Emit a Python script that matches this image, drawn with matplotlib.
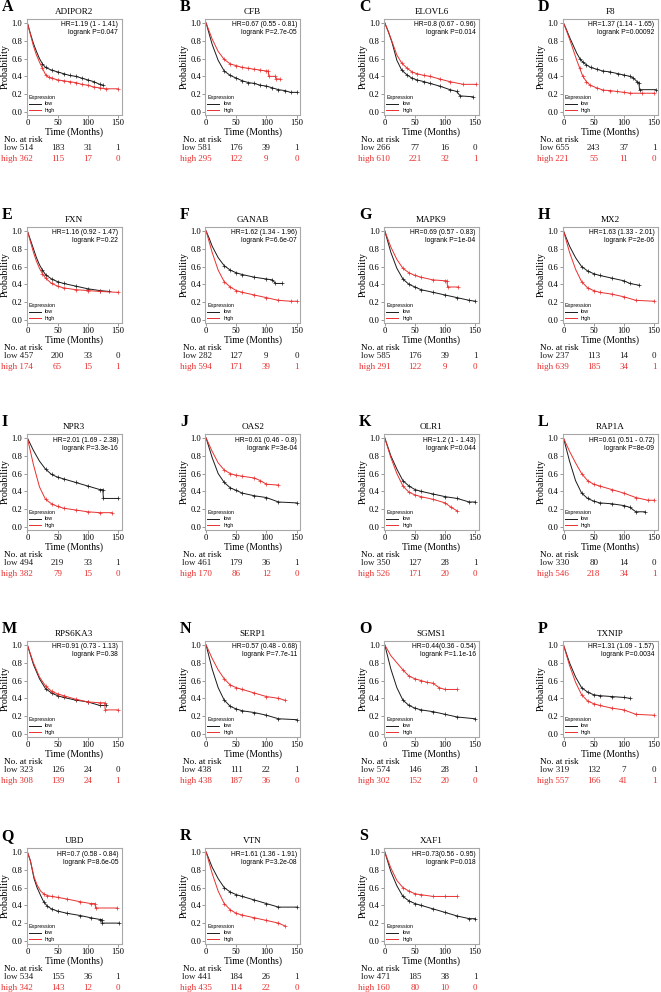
import matplotlib
matplotlib.use('Agg')
import matplotlib.pyplot as plt
from matplotlib import transforms
from matplotlib.lines import Line2D

genes = ["ADIPOR2", "CFB", "ELOVL6", "F8", "FXN", "GANAB", "MAPK9", "MX2",
         "NPR3", "OAS2", "OLR1", "RAP1A", "RPS6KA3", "SERP1", "SGMS1", "TXNIP",
         "UBD", "VTN", "XAF1"]
letters = list("ABCDEFGHIJKLMNOPQRS")
hr_texts = ["HR=1.19 (1 - 1.41)", "HR=0.67 (0.55 - 0.81)", "HR=0.8 (0.67 - 0.96)",
            "HR=1.37 (1.14 - 1.65)", "HR=1.16 (0.92 - 1.47)", "HR=1.62 (1.34 - 1.96)",
            "HR=0.69 (0.57 - 0.83)", "HR=1.63 (1.33 - 2.01)", "HR=2.01 (1.69 - 2.38)",
            "HR=0.61 (0.46 - 0.8)", "HR=1.2 (1 - 1.43)", "HR=0.61 (0.51 - 0.72)",
            "HR=0.91 (0.73 - 1.13)", "HR=0.57 (0.48 - 0.68)", "HR=0.44(0.36 - 0.54)",
            "HR=1.31 (1.09 - 1.57)", "HR=0.7 (0.58 - 0.84)", "HR=1.61 (1.36 - 1.91)",
            "HR=0.73(0.56 - 0.95)"]
p_texts = ["logrank P=0.047", "logrank P=2.7e-05", "logrank P=0.014", "logrank P=0.00092",
           "logrank P=0.22", "logrank P=6.6e-07", "logrank P=1e-04", "logrank P=2e-06",
           "logrank P=3.3e-16", "logrank P=3e-04", "logrank P=0.044", "logrank P=8e-09",
           "logrank P=0.38", "logrank P=7.7e-11", "logrank P=1.1e-16", "logrank P=0.0034",
           "logrank P=8.6e-05", "logrank P=3.2e-08", "logrank P=0.018"]
risk_times = [0, 50, 100, 150]
risk_low = [[514, 183, 31, 1], [581, 176, 39, 1], [266, 77, 16, 0], [655, 243, 37, 1],
            [457, 200, 33, 0], [282, 127, 9, 0], [585, 176, 39, 1], [237, 113, 14, 0],
            [494, 219, 33, 1], [461, 179, 36, 1], [350, 127, 28, 1], [330, 80, 14, 0],
            [323, 126, 24, 0], [438, 111, 22, 1], [574, 146, 28, 1], [319, 132, 7, 0],
            [534, 155, 36, 1], [441, 184, 26, 1], [471, 185, 38, 1]]
risk_high = [[362, 115, 17, 0], [295, 122, 9, 0], [610, 221, 32, 1], [221, 55, 11, 0],
             [174, 65, 15, 1], [594, 171, 39, 1], [291, 122, 9, 0], [639, 185, 34, 1],
             [382, 79, 15, 0], [170, 86, 12, 0], [526, 171, 20, 0], [546, 218, 34, 1],
             [308, 139, 24, 1], [438, 187, 36, 0], [302, 152, 20, 0], [557, 166, 41, 1],
             [342, 143, 12, 0], [435, 114, 22, 0], [160, 80, 10, 0]]

low_t = [
    [0, 5, 10, 15, 20, 25, 30, 40, 50, 60, 70, 80, 90, 100, 110, 120, 125],
    [0, 10, 20, 30, 40, 50, 60, 70, 80, 90, 100, 110, 120, 130, 140, 150],
    [0, 6, 12, 20, 28, 37, 45, 53, 65, 75, 91, 108, 119, 125, 146],
    [0, 4, 10, 16, 22, 27, 32, 38, 45, 55, 65, 77, 90, 100, 110, 116, 122, 125, 126, 153],
    [0, 5, 10, 15, 20, 25, 30, 40, 50, 60, 80, 100, 120, 135],
    [0, 5, 10, 20, 30, 40, 50, 60, 80, 100, 110, 115, 125],
    [0, 10, 20, 30, 40, 50, 60, 80, 100, 120, 140, 150],
    [0, 10, 20, 30, 40, 50, 60, 80, 100, 110, 125],
    [0, 10, 20, 30, 40, 50, 60, 80, 100, 120, 125, 126, 150],
    [0, 10, 20, 30, 40, 50, 60, 80, 100, 120, 150],
    [0, 10, 20, 30, 40, 50, 60, 80, 100, 120, 140, 150],
    [0, 10, 20, 30, 40, 50, 60, 80, 100, 110, 120, 135],
    [0, 10, 20, 30, 40, 50, 60, 80, 100, 120, 130],
    [0, 10, 20, 30, 40, 50, 60, 80, 100, 120, 150],
    [0, 10, 20, 30, 40, 50, 60, 80, 100, 120, 150],
    [0, 10, 20, 30, 40, 50, 60, 80, 100, 110],
    [0, 5, 11, 16, 22, 27, 33, 40, 50, 66, 88, 105, 121, 123, 124, 152],
    [0, 10, 20, 30, 40, 50, 60, 80, 100, 120, 150],
    [0, 10, 20, 30, 40, 50, 60, 80, 100, 120, 140, 150],
]
low_s = [
    [1, 0.88, 0.77, 0.68, 0.6, 0.54, 0.5, 0.47, 0.45, 0.43, 0.41, 0.4, 0.38, 0.36, 0.34, 0.31, 0.3],
    [1, 0.76, 0.58, 0.46, 0.41, 0.38, 0.35, 0.33, 0.32, 0.3, 0.29, 0.27, 0.25, 0.24, 0.22, 0.22],
    [1, 0.9, 0.78, 0.58, 0.47, 0.415, 0.38, 0.36, 0.34, 0.32, 0.29, 0.25, 0.23, 0.18, 0.17],
    [1, 0.94, 0.84, 0.75, 0.66, 0.6, 0.56, 0.53, 0.5, 0.48, 0.46, 0.45, 0.43, 0.415, 0.4, 0.38, 0.34, 0.33, 0.25, 0.25],
    [1, 0.9, 0.8, 0.7, 0.62, 0.56, 0.51, 0.46, 0.43, 0.41, 0.38, 0.35, 0.33, 0.32],
    [1, 0.92, 0.83, 0.7, 0.61, 0.56, 0.53, 0.51, 0.48, 0.46, 0.45, 0.41, 0.41],
    [1, 0.76, 0.58, 0.46, 0.4, 0.37, 0.34, 0.31, 0.28, 0.25, 0.22, 0.21],
    [1, 0.83, 0.7, 0.6, 0.55, 0.52, 0.5, 0.47, 0.44, 0.41, 0.39],
    [1, 0.86, 0.74, 0.65, 0.59, 0.56, 0.54, 0.5, 0.46, 0.42, 0.42, 0.32, 0.32],
    [1, 0.78, 0.6, 0.5, 0.44, 0.41, 0.38, 0.35, 0.33, 0.28, 0.27],
    [1, 0.8, 0.65, 0.52, 0.46, 0.42, 0.4, 0.37, 0.34, 0.32, 0.28, 0.28],
    [1, 0.74, 0.52, 0.38, 0.32, 0.29, 0.27, 0.26, 0.24, 0.22, 0.17, 0.17],
    [1, 0.78, 0.62, 0.51, 0.46, 0.43, 0.41, 0.38, 0.36, 0.32, 0.32],
    [1, 0.73, 0.52, 0.38, 0.31, 0.28, 0.26, 0.24, 0.21, 0.17, 0.16],
    [1, 0.73, 0.52, 0.38, 0.32, 0.29, 0.27, 0.25, 0.22, 0.19, 0.17],
    [1, 0.8, 0.64, 0.52, 0.47, 0.44, 0.43, 0.42, 0.41, 0.4],
    [1, 0.9, 0.7, 0.6, 0.51, 0.44, 0.39, 0.36, 0.335, 0.31, 0.285, 0.26, 0.24, 0.24, 0.2, 0.2],
    [1, 0.83, 0.7, 0.6, 0.55, 0.52, 0.5, 0.46, 0.42, 0.38, 0.38],
    [1, 0.78, 0.62, 0.5, 0.45, 0.42, 0.4, 0.36, 0.32, 0.28, 0.25, 0.25],
]
high_t = [
    [0, 5, 10, 15, 20, 25, 30, 35, 40, 50, 60, 70, 80, 90, 100, 110, 120, 130, 150],
    [0, 10, 20, 30, 40, 50, 60, 70, 80, 90, 100, 103, 104, 115, 116, 122],
    [0, 6, 12, 20, 28, 37, 45, 53, 65, 75, 91, 108, 130, 152],
    [0, 4, 10, 16, 22, 27, 32, 38, 44, 55, 66, 77, 88, 100, 111, 130, 150],
    [0, 5, 10, 15, 20, 25, 30, 40, 50, 60, 80, 100, 120, 150],
    [0, 5, 10, 20, 30, 40, 50, 60, 80, 100, 120, 140, 150],
    [0, 10, 20, 30, 40, 50, 60, 80, 100, 103, 104, 122],
    [0, 10, 20, 30, 40, 50, 60, 80, 100, 120, 150],
    [0, 10, 20, 30, 40, 50, 60, 80, 100, 120, 140],
    [0, 10, 20, 30, 40, 50, 60, 80, 90, 100, 120],
    [0, 10, 20, 30, 40, 50, 60, 80, 100, 110, 120],
    [0, 10, 20, 30, 40, 50, 60, 80, 100, 120, 140, 150],
    [0, 10, 20, 30, 40, 50, 60, 80, 100, 120, 128, 129, 150],
    [0, 10, 20, 30, 40, 50, 60, 80, 100, 120, 130],
    [0, 10, 20, 30, 40, 50, 60, 70, 80, 90, 100, 120],
    [0, 10, 20, 30, 40, 50, 60, 80, 100, 120, 150],
    [0, 5, 11, 16, 22, 27, 33, 40, 50, 66, 88, 105, 112, 113, 149],
    [0, 10, 20, 30, 40, 50, 60, 80, 100, 120, 130],
    [0, 10, 20, 30, 40, 50, 60, 80, 100, 120],
]
high_s = [
    [1, 0.87, 0.74, 0.64, 0.56, 0.49, 0.42, 0.39, 0.38, 0.36, 0.35, 0.34, 0.33, 0.31, 0.3, 0.28, 0.27, 0.26, 0.26],
    [1, 0.82, 0.68, 0.59, 0.54, 0.52, 0.5, 0.49, 0.48, 0.47, 0.46, 0.46, 0.4, 0.4, 0.37, 0.37],
    [1, 0.9, 0.79, 0.64, 0.55, 0.49, 0.45, 0.43, 0.41, 0.4, 0.37, 0.34, 0.31, 0.31],
    [1, 0.93, 0.82, 0.7, 0.58, 0.49, 0.4, 0.34, 0.3, 0.27, 0.245, 0.24, 0.23, 0.22, 0.21, 0.21, 0.21],
    [1, 0.88, 0.76, 0.66, 0.58, 0.52, 0.47, 0.41, 0.38, 0.36, 0.34, 0.33, 0.32, 0.31],
    [1, 0.88, 0.76, 0.56, 0.43, 0.37, 0.33, 0.31, 0.28, 0.25, 0.22, 0.21, 0.21],
    [1, 0.82, 0.68, 0.58, 0.53, 0.5, 0.48, 0.45, 0.44, 0.44, 0.37, 0.37],
    [1, 0.76, 0.57, 0.43, 0.36, 0.33, 0.31, 0.29, 0.26, 0.22, 0.21],
    [1, 0.7, 0.45, 0.31, 0.26, 0.23, 0.21, 0.19, 0.17, 0.16, 0.16],
    [1, 0.85, 0.72, 0.64, 0.6, 0.58, 0.57, 0.55, 0.52, 0.48, 0.47],
    [1, 0.78, 0.6, 0.46, 0.39, 0.36, 0.34, 0.31, 0.27, 0.22, 0.18],
    [1, 0.85, 0.72, 0.6, 0.52, 0.48, 0.46, 0.42, 0.38, 0.33, 0.3, 0.3],
    [1, 0.8, 0.64, 0.54, 0.48, 0.45, 0.43, 0.39, 0.36, 0.35, 0.35, 0.27, 0.27],
    [1, 0.85, 0.72, 0.62, 0.55, 0.52, 0.5, 0.46, 0.42, 0.4, 0.38],
    [1, 0.88, 0.8, 0.72, 0.65, 0.62, 0.6, 0.58, 0.57, 0.52, 0.5, 0.5],
    [1, 0.77, 0.58, 0.44, 0.37, 0.34, 0.32, 0.29, 0.27, 0.22, 0.21],
    [1, 0.9, 0.72, 0.63, 0.56, 0.53, 0.51, 0.5, 0.49, 0.47, 0.44, 0.42, 0.42, 0.37, 0.37],
    [1, 0.76, 0.56, 0.42, 0.35, 0.31, 0.29, 0.26, 0.23, 0.2, 0.17],
    [1, 0.82, 0.68, 0.6, 0.56, 0.53, 0.52, 0.5, 0.5, 0.5],
]

BLACK = "#1a1a1a"
RED = "#e8302f"
SERIF = "Liberation Serif"
SANS = "Liberation Sans"

W, H = 661, 992
fig = plt.figure(figsize=(W / 100, H / 100), dpi=100)
col_left = [26.5, 205.2, 383.9, 562.6]
row_top = [19, 227, 434, 641, 848]
aw, ah = 95, 96


def draw_curve(ax, t, s, color):
    ax.plot(t, s, color=color, lw=0.7)
    ct = [a for a in t if a >= 25]
    cs = [b for a, b in zip(t, s) if a >= 25]
    ax.plot(ct, cs, ls="none", marker="+", ms=2.2, mew=0.5, color=color)


for i, gene in enumerate(genes):
    r, c = divmod(i, 4)
    L, T = col_left[c], row_top[r]
    ax = fig.add_axes([L / W, 1 - (T + ah) / H, aw / W, ah / H])
    draw_curve(ax, low_t[i], low_s[i], BLACK)
    draw_curve(ax, high_t[i], high_s[i], RED)
    ax.set_xlim(-1.5, 156)
    ax.set_ylim(-0.035, 1.045)
    ax.set_xticks([0, 50, 100, 150])
    ax.set_yticks([0.0, 0.2, 0.4, 0.6, 0.8, 1.0])
    ax.set_yticklabels(["0.0", "0.2", "0.4", "0.6", "0.8", "1.0"])
    for sp in ax.spines.values():
        sp.set_color("#a8a8a8")
        sp.set_linewidth(0.8)
    ax.tick_params(length=2, width=0.5, color="#707070", pad=1, labelsize=6.2)
    for lab in ax.get_xticklabels() + ax.get_yticklabels():
        lab.set_family(SERIF)
    ax.set_xlabel("Time (Months)", family=SERIF, fontsize=6.9, labelpad=0)
    ax.set_ylabel("Probability", family=SERIF, fontsize=7.2, labelpad=1)
    ax.text(0.5, 1 + 7 / ah, gene, transform=ax.transAxes, ha="center", va="center",
            family=SERIF, fontsize=6.6)
    ax.text(0.965, 1 - 6 / ah, hr_texts[i], transform=ax.transAxes, ha="right",
            va="center", family=SANS, fontsize=4.9)
    ax.text(0.965, 1 - 14 / ah, p_texts[i], transform=ax.transAxes, ha="right",
            va="center", family=SANS, fontsize=4.9)
    handles = [Line2D([], [], color=BLACK, lw=0.7), Line2D([], [], color=RED, lw=0.7)]
    leg = ax.legend(handles, ["low", "high"], title="Expression", loc="lower left",
                    frameon=False, prop={"family": SANS, "size": 3.9},
                    title_fontproperties={"family": SANS, "size": 3.9},
                    handlelength=2.2, handletextpad=0.8, labelspacing=0.25,
                    borderpad=0.2, borderaxespad=0.2, alignment="left")
    # number at risk table
    tr = transforms.blended_transform_factory(ax.transData, ax.transAxes)
    ax.text(-7, -25 / ah, "No. at risk", transform=tr, ha="center", va="center",
            family=SERIF, fontsize=6.6, clip_on=False)
    for k, tt in enumerate(risk_times):
        if k == 0:
            ax.text(9, -33 / ah, f"low {risk_low[i][k]}", transform=tr, ha="right",
                    va="center", family=SERIF, fontsize=6.5, color=BLACK)
            ax.text(9, -44 / ah, f"high {risk_high[i][k]}", transform=tr, ha="right",
                    va="center", family=SERIF, fontsize=6.5, color=RED)
        else:
            ax.text(tt, -33 / ah, str(risk_low[i][k]), transform=tr, ha="center",
                    va="center", family=SERIF, fontsize=6.5, color=BLACK)
            ax.text(tt, -44 / ah, str(risk_high[i][k]), transform=tr, ha="center",
                    va="center", family=SERIF, fontsize=6.5, color=RED)
    fig.text((L - 25) / W, 1 - (T - 12) / H, letters[i], ha="left", va="center",
             family=SERIF, fontsize=11.5, fontweight="bold")

fig.savefig("out.png", dpi=100)
